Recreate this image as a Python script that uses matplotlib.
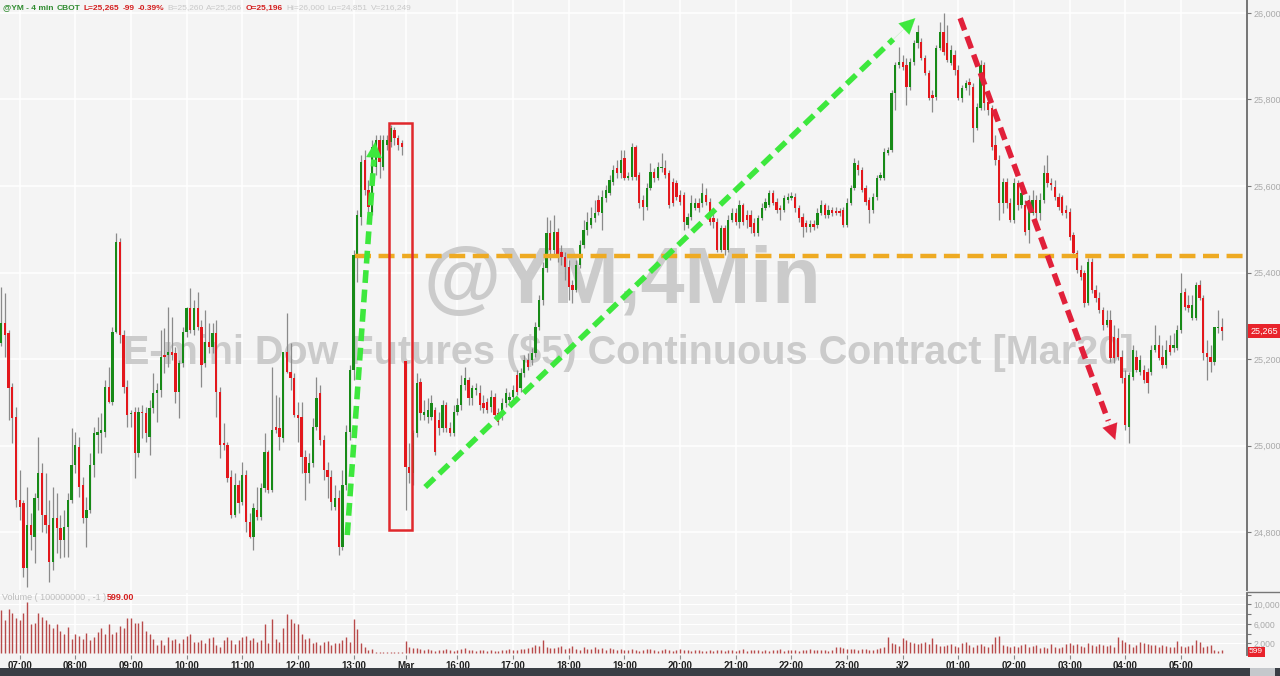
import matplotlib
matplotlib.use('Agg')
import matplotlib.pyplot as plt
from matplotlib.patches import Rectangle
from matplotlib.lines import Line2D
import numpy as np

plt.rcParams['font.family'] = ['Liberation Sans', 'DejaVu Sans']

# ---------------- data (4-minute bars: Friday session then Monday session) ----------------
opens = [
 25237, 25283, 25260, 25135, 25066, 24874, 24867, 24717, 24816, 24788,
 24879, 24936, 24839, 24816, 24731, 24832, 24809, 24781, 24812, 24874,
 24955, 24997, 24909, 24832, 24851, 24955, 25024, 25029, 25031, 25135,
 25101, 25262, 25470, 25255, 25135, 25073, 25077, 24983, 25077, 25075,
 25020, 25087, 25121, 25128, 25209, 25209, 25216, 25214, 25124, 25191,
 25262, 25318, 25267, 25318, 25274, 25191, 25239, 25228, 25260, 25124,
 25006, 25001, 24927, 24839, 24909, 24869, 24932, 24823, 24788, 24851,
 24835, 24902, 24985, 24897, 25043, 25040, 25017, 25216, 25170, 25156,
 25070, 25066, 24973, 24936, 24960, 25043, 25121, 25013, 24943, 24927,
 24858, 24879, 24765, 24909, 25031, 25175, 25440, 25528, 25660, 25591,
 25537, 25644, 25706, 25644, 25695, 25702, 25729, 25711, 25699,
 25196, 24950, 24936, 25029, 25147, 25070, 25066, 25066, 25082, 25059,
 25040, 25094, 25040, 25029, 25077, 25094, 25140, 25151, 25110, 25128,
 25121, 25098, 25101, 25089, 25112, 25075, 25070, 25098, 25105, 25112,
 25163, 25133, 25168, 25198, 25198, 25214, 25274, 25336, 25410, 25491,
 25452, 25494, 25447, 25436, 25413, 25371, 25360, 25417, 25464, 25498,
 25510, 25526, 25568, 25537, 25572, 25584, 25609, 25642, 25630, 25665,
 25618, 25621, 25690, 25625, 25568, 25551, 25595, 25632, 25618, 25642,
 25642, 25630, 25609, 25607, 25579, 25579, 25510, 25528, 25549, 25561,
 25561, 25579, 25563, 25526, 25517, 25452, 25503, 25452, 25521, 25537,
 25517, 25556, 25533, 25533, 25514, 25491, 25526, 25549, 25556, 25584,
 25563, 25549, 25544, 25568, 25572, 25575, 25549, 25528, 25514, 25505,
 25512, 25510, 25537, 25556, 25533, 25544, 25542, 25542, 25544, 25510,
 25561, 25595, 25649, 25637, 25595, 25568, 25544, 25575, 25618, 25618,
 25676, 25683, 25815, 25880, 25887, 25880, 25829, 25887, 25931, 25933,
 25896, 25861, 25810, 25806, 25919, 25956, 25931, 25884, 25903, 25868,
 25803, 25827, 25840, 25829, 25734, 25780, 25880, 25794, 25780, 25695,
 25660, 25561, 25609, 25561, 25521, 25607, 25556, 25556, 25498, 25537,
 25568, 25537, 25568, 25630, 25607, 25598, 25575, 25575, 25544, 25540,
 25487, 25445, 25406, 25399, 25330, 25424, 25360, 25341, 25313, 25279,
 25290, 25251, 25249, 25205, 25156, 25043, 25158, 25205, 25170, 25175,
 25170, 25170, 25221, 25232, 25205, 25186, 25232, 25225, 25225, 25267,
 25355, 25325, 25295, 25295, 25371, 25341, 25214, 25205, 25193, 25272,
 25274]

highs = [
 25366, 25353, 25267, 25144, 25089, 24943, 24874, 24904, 24844, 24890,
 25020, 24960, 24936, 24874, 24904, 24890, 24839, 24851, 24890, 25040,
 25031, 25020, 24927, 24881, 24983, 25043, 25066, 25075, 25151, 25181,
 25274, 25491, 25480, 25267, 25151, 25082, 25089, 25089, 25094, 25089,
 25105, 25168, 25144, 25267, 25272, 25320, 25297, 25228, 25198, 25274,
 25320, 25364, 25336, 25355, 25290, 25313, 25283, 25283, 25290, 25135,
 25052, 25008, 24943, 24936, 24920, 24962, 24943, 24844, 24867, 24904,
 24913, 25029, 24990, 25181, 25117, 25112, 25216, 25306, 25237, 25168,
 25101, 25101, 24990, 24983, 25064, 25158, 25140, 25024, 24962, 24943,
 24909, 24897, 24943, 25047, 25186, 25452, 25544, 25672, 25683, 25614,
 25706, 25718, 25718, 25718, 25718, 25741, 25736, 25718, 25706,
 25196, 25006, 25036, 25168, 25156, 25105, 25110, 25117, 25089, 25077,
 25105, 25101, 25054, 25094, 25110, 25163, 25181, 25158, 25140, 25144,
 25140, 25117, 25110, 25128, 25121, 25087, 25110, 25133, 25124, 25140,
 25175, 25179, 25209, 25214, 25225, 25286, 25348, 25424, 25528, 25521,
 25533, 25503, 25464, 25447, 25429, 25383, 25429, 25475, 25521, 25540,
 25551, 25568, 25579, 25591, 25602, 25625, 25649, 25660, 25683, 25683,
 25632, 25699, 25695, 25632, 25579, 25607, 25653, 25642, 25655, 25676,
 25660, 25637, 25618, 25614, 25591, 25586, 25537, 25579, 25572, 25572,
 25607, 25595, 25572, 25540, 25526, 25510, 25510, 25533, 25549, 25549,
 25568, 25561, 25544, 25544, 25526, 25533, 25561, 25572, 25591, 25591,
 25572, 25556, 25579, 25584, 25586, 25584, 25556, 25537, 25521, 25521,
 25521, 25549, 25568, 25561, 25556, 25551, 25551, 25549, 25551, 25572,
 25602, 25665, 25660, 25644, 25602, 25575, 25584, 25625, 25632, 25688,
 25690, 25822, 25887, 25921, 25903, 25896, 25896, 25938, 25972, 25942,
 25903, 25868, 25822, 25926, 25979, 26000, 25972, 25926, 25914, 25880,
 25833, 25845, 25850, 25838, 25792, 25891, 25887, 25803, 25787, 25718,
 25672, 25618, 25618, 25572, 25618, 25614, 25602, 25568, 25579, 25591,
 25579, 25584, 25649, 25672, 25618, 25614, 25584, 25579, 25556, 25549,
 25494, 25452, 25417, 25406, 25434, 25434, 25371, 25355, 25320, 25313,
 25313, 25279, 25272, 25221, 25175, 25170, 25232, 25221, 25209, 25186,
 25179, 25232, 25279, 25255, 25232, 25244, 25255, 25260, 25279, 25399,
 25364, 25348, 25348, 25378, 25383, 25348, 25244, 25232, 25274, 25313,
 25295]

lows = [
 25230, 25205, 25059, 25006, 24858, 24828, 24696, 24673, 24758, 24728,
 24851, 24800, 24798, 24684, 24712, 24751, 24740, 24742, 24742, 24867,
 24936, 24881, 24821, 24765, 24844, 24927, 24983, 24983, 25020, 25098,
 25094, 25260, 25237, 25121, 25043, 25043, 24925, 24973, 25017, 25008,
 24978, 25075, 25054, 25112, 25168, 25181, 25198, 25098, 25064, 25181,
 25251, 25260, 25255, 25267, 25135, 25181, 25214, 25214, 25066, 24971,
 24990, 24916, 24832, 24835, 24844, 24862, 24800, 24786, 24758, 24828,
 24828, 24892, 24890, 24892, 25029, 24990, 25008, 25168, 25128, 25066,
 25008, 24936, 24874, 24913, 24950, 25036, 25001, 24920, 24879, 24851,
 24851, 24747, 24758, 24897, 25013, 25151, 25378, 25510, 25579, 25540,
 25533, 25625, 25618, 25637, 25683, 25690, 25695, 25683, 25672,
 24851, 24913, 24909, 25020, 25059, 25059, 25052, 25059, 24978, 25024,
 25031, 25031, 25022, 25022, 25070, 25082, 25128, 25094, 25094, 25117,
 25082, 25075, 25075, 25077, 25064, 25047, 25059, 25089, 25098, 25105,
 25117, 25124, 25158, 25175, 25186, 25205, 25267, 25325, 25401, 25429,
 25440, 25424, 25417, 25383, 25336, 25330, 25355, 25410, 25457, 25487,
 25503, 25517, 25533, 25498, 25563, 25579, 25602, 25618, 25618, 25614,
 25614, 25614, 25614, 25549, 25521, 25544, 25591, 25609, 25614, 25632,
 25618, 25549, 25554, 25568, 25556, 25498, 25503, 25521, 25544, 25540,
 25551, 25556, 25510, 25503, 25447, 25447, 25440, 25447, 25517, 25510,
 25503, 25510, 25503, 25491, 25484, 25484, 25521, 25544, 25551, 25556,
 25537, 25521, 25540, 25561, 25568, 25540, 25517, 25482, 25494, 25494,
 25498, 25503, 25533, 25526, 25526, 25531, 25533, 25531, 25505, 25505,
 25556, 25591, 25625, 25586, 25556, 25514, 25537, 25568, 25614, 25614,
 25672, 25679, 25776, 25873, 25868, 25787, 25822, 25880, 25919, 25891,
 25857, 25799, 25771, 25799, 25914, 25903, 25887, 25880, 25857, 25799,
 25794, 25822, 25810, 25702, 25729, 25776, 25776, 25764, 25683, 25649,
 25521, 25537, 25549, 25517, 25514, 25544, 25549, 25487, 25468, 25533,
 25526, 25521, 25561, 25598, 25591, 25568, 25544, 25533, 25526, 25475,
 25436, 25399, 25383, 25320, 25325, 25353, 25332, 25306, 25267, 25274,
 25193, 25191, 25198, 25144, 25036, 25006, 25151, 25170, 25163, 25144,
 25121, 25163, 25216, 25198, 25179, 25179, 25209, 25216, 25221, 25260,
 25313, 25309, 25290, 25290, 25336, 25198, 25151, 25170, 25186, 25260,
 25244]

closes = [
 25283, 25255, 25133, 25064, 24874, 24858, 24717, 24816, 24793, 24879,
 24936, 24839, 24816, 24731, 24832, 24809, 24781, 24812, 24874, 24955,
 25001, 24904, 24832, 24851, 24955, 25029, 25031, 25036, 25135, 25101,
 25262, 25470, 25255, 25135, 25070, 25075, 24983, 25077, 25075, 25029,
 25087, 25121, 25128, 25205, 25205, 25216, 25209, 25124, 25191, 25262,
 25318, 25267, 25318, 25274, 25186, 25239, 25228, 25260, 25124, 25001,
 25001, 24925, 24839, 24909, 24867, 24932, 24823, 24788, 24855, 24835,
 24902, 24985, 24897, 25036, 25036, 25020, 25216, 25170, 25156, 25070,
 25064, 24973, 24936, 24960, 25043, 25110, 25013, 24943, 24927, 24869,
 24879, 24765, 24909, 25031, 25175, 25440, 25533, 25655, 25591, 25551,
 25690, 25706, 25655, 25706, 25706, 25734, 25711, 25695, 25690,
 24950, 24936, 25029, 25144, 25075, 25077, 25082, 25098, 24985, 25040,
 25094, 25040, 25029, 25077, 25094, 25140, 25156, 25110, 25133, 25133,
 25094, 25087, 25082, 25112, 25070, 25054, 25098, 25121, 25112, 25128,
 25124, 25168, 25198, 25181, 25214, 25274, 25336, 25410, 25491, 25452,
 25494, 25436, 25436, 25413, 25366, 25360, 25417, 25464, 25498, 25517,
 25526, 25537, 25540, 25575, 25591, 25614, 25637, 25630, 25660, 25618,
 25623, 25690, 25621, 25561, 25551, 25595, 25632, 25618, 25644, 25644,
 25625, 25556, 25561, 25575, 25563, 25517, 25528, 25561, 25561, 25549,
 25584, 25563, 25517, 25517, 25452, 25503, 25452, 25521, 25537, 25517,
 25556, 25517, 25521, 25505, 25491, 25526, 25549, 25563, 25584, 25561,
 25544, 25544, 25572, 25575, 25577, 25549, 25526, 25505, 25505, 25512,
 25505, 25537, 25556, 25533, 25544, 25537, 25537, 25537, 25510, 25561,
 25595, 25653, 25637, 25591, 25563, 25544, 25575, 25618, 25625, 25679,
 25683, 25815, 25880, 25887, 25875, 25829, 25887, 25931, 25956, 25896,
 25861, 25803, 25803, 25919, 25956, 25910, 25891, 25914, 25868, 25803,
 25827, 25838, 25833, 25734, 25783, 25880, 25792, 25776, 25690, 25660,
 25561, 25609, 25561, 25521, 25607, 25556, 25584, 25494, 25568, 25568,
 25537, 25568, 25630, 25607, 25602, 25575, 25551, 25537, 25537, 25482,
 25445, 25406, 25390, 25330, 25424, 25360, 25341, 25313, 25279, 25290,
 25202, 25202, 25205, 25156, 25047, 25163, 25221, 25175, 25198, 25151,
 25144, 25221, 25232, 25202, 25186, 25221, 25216, 25232, 25267, 25353,
 25320, 25318, 25325, 25371, 25341, 25214, 25205, 25193, 25274, 25274,
 25265]

volumes = [
 8900, 6900, 9000, 8200, 7200, 6900, 8200, 10500, 5900, 6200,
 8200, 7500, 6900, 5900, 5200, 5900, 4600, 3900, 5400, 2900,
 3900, 3600, 2900, 4100, 2600, 3300, 4300, 5200, 3900, 5900,
 3900, 4300, 5600, 5200, 7200, 7200, 6200, 6200, 6600, 4600,
 3900, 2900, 1600, 2600, 1600, 3300, 2600, 2900, 2000, 2900,
 3600, 3900, 2300, 2300, 2600, 2000, 3000, 3300, 1600, 1300,
 2600, 3300, 2600, 1900, 2600, 3300, 3600, 2600, 3000, 2300,
 2600, 6000, 2000, 7000, 2900, 2300, 5200, 8000, 7000, 6200,
 5900, 3900, 2900, 3000, 2000, 2300, 1600, 2300, 2400, 1600,
 2000, 2000, 2600, 3300, 2300, 7000, 5000, 2000, 1300, 700,
 900, 300, 250, 200, 200, 300, 250, 200, 300,
 2400,
 1300, 1100, 1000, 800, 700, 800, 600, 500, 600, 700, 900, 600, 500, 700, 800, 1000,
 700, 600, 500, 600, 700, 500, 600, 500, 400, 600, 700, 800, 700, 600, 900, 800, 1100, 1300, 1700, 1500,
 2600, 1300, 1100, 1000, 1200, 1500, 900, 1000, 1500, 800, 700, 1300, 900, 800, 1200,
 800, 1000, 700, 1100, 900, 700, 800, 600, 700, 900, 600, 500, 700, 900, 800, 600, 500, 700, 800, 600,
 500, 600, 800, 700, 600, 500, 700, 600, 500, 400, 600, 500, 700, 600, 500, 600, 700, 500, 600, 800,
 500, 600, 700, 600, 500, 600, 500, 700, 600, 800, 500, 600, 700, 600, 500, 600, 700, 800, 600, 700,
 600, 700, 500, 600, 1300, 1200, 1100, 900, 800, 900, 700, 800, 900, 700, 600, 800, 1000, 1200,
 3300, 2100, 1900, 1500, 3000, 2600, 2300, 2100, 1900, 2000, 2300, 1900, 3000, 1800, 1500, 1400, 1700, 1800, 1500, 1300, 2000, 2300,
 1600, 1300, 1700, 1900, 1400, 1200, 1800, 3300, 3500, 1700, 1400, 1300, 1500, 1200, 1600, 1800, 1300, 1400, 1600, 1000,
 1300, 1100, 1800, 1300, 1000, 1200, 1900, 2100, 1600, 1800, 1500, 1300, 2000, 1700, 1400, 1900, 1600, 1400, 1700, 1300,
 3300, 2700, 2200, 1800, 1300, 1700, 2200, 2000, 1900, 1700, 1600, 1300, 1700, 1400, 1300, 1200, 2500, 1500, 1300, 1400,
 1600, 2700, 2200, 1300, 1500, 1600, 700, 500, 599]

tick_pos = [5, 20, 35, 50, 65, 80, 95, 109, 123, 138, 153, 168, 183, 198,
            213, 228, 243, 258, 273, 288, 303, 318]
tick_labels = ['07:00', '08:00', '09:00', '10:00', '11:00', '12:00', '13:00', 'Mar',
               '16:00', '17:00', '18:00', '19:00', '20:00', '21:00', '22:00', '23:00',
               '3/2', '01:00', '02:00', '03:00', '04:00', '05:00']
price_ticks = [24800, 25000, 25200, 25400, 25600, 25800, 26000]
vol_ticks = [2000, 4000, 6000, 8000, 10000, 12000]
vol_labels = ['2,000', '', '6,000', '', '10,000', '']
last_price = 25265
last_volume = 599
level_price = 25438          # orange dashed level
box_x = (104.6, 110.8)       # red box (bar index range)
box_y = (24805, 25746)
green_arrows = [((93.3, 24793), (100.8, 25702)), ((114.3, 24904), (246.4, 25988))]
red_arrow = ((258.5, 25988), (300.3, 25013))
header = [(2, '@YM - 4 min', '#2e8b2e', 'bold'), (57, 'CBOT', '#2e8b2e', 'bold'),
          (81, 'L=25,265', '#d42020', 'bold'), (120, '-99', '#d42020', 'bold'),
          (134, '-0.39%', '#d42020', 'bold'), (167, 'B=25,260', '#c8c8c8', 'normal'),
          (204, 'A=25,266', '#c8c8c8', 'normal'), (246, 'O=25,196', '#d42020', 'bold'),
          (286, 'Hi=26,000', '#c8c8c8', 'normal'), (326, 'Lo=24,851', '#c8c8c8', 'normal'),
          (368, 'V=216,249', '#c8c8c8', 'normal')]

# ---------------- figure ----------------
W, H = 1280, 676
BG = '#f4f4f4'
GREEN = '#178a17'
RED = '#e3171c'
fig = plt.figure(figsize=(W / 100, H / 100), dpi=100)
fig.patch.set_facecolor(BG)

ax = fig.add_axes([0, 1 - 590 / H, 1247 / W, 590 / H])
vax = fig.add_axes([0, 1 - 655 / H, 1247 / W, 62 / H])
for a in (ax, vax):
    a.set_facecolor(BG)
    for s in ('left', 'top', 'bottom'):
        a.spines[s].set_visible(False)
    a.spines['right'].set_color('#6a6a6a')
    a.spines['right'].set_linewidth(1.3)
    a.set_xlim(-0.3, 335.8)
    a.set_axisbelow(True)

n = len(closes)
x = np.arange(n)
o = np.array(opens, float)
c = np.array(closes, float)
hi = np.array(highs, float)
lo = np.array(lows, float)
up = c >= o
cols = [GREEN if u else RED for u in up]
bottom = np.minimum(o, c)
height = np.maximum(np.abs(c - o), 3.0)

# watermark
ax.text(167.5, 25377, '@YM,4Min', ha='center', va='center', fontsize=57, fontweight='bold',
        color='#cbcbcb', zorder=1)
ax.text(169, 25215, 'E-mini Dow Futures ($5) Continuous Contract [Mar20]', ha='center',
        va='center', fontsize=28.5, fontweight='bold', color='#cbcbcb', zorder=1)

ax.vlines(x, lo, hi, color='#8a8a8a', lw=0.9, zorder=2)
ax.bar(x, height, bottom=bottom, width=0.62, color=cols, lw=0, zorder=3)

ax.set_ylim(24666, 26030)
ax.yaxis.tick_right()
ax.set_yticks(price_ticks)
ax.set_yticklabels([f'{v:,}' for v in price_ticks])
ax.tick_params(axis='y', direction='out', length=3, width=0.8, color='#777777',
               labelsize=6.5, labelcolor='#a9a9a9', pad=1.5)
ax.set_xticks(tick_pos)
ax.tick_params(axis='x', length=0, labelbottom=False)
ax.grid(True, color='white', lw=1.1, zorder=0)

# orange level
ax.plot([95.5, 336], [level_price, level_price], color='#eeaa22', lw=3.2,
        ls=(0, (3.6, 1.7)), zorder=4, solid_capstyle='butt')

# red box
ax.add_patch(Rectangle((box_x[0], box_y[0]), box_x[1] - box_x[0], box_y[1] - box_y[0],
                       fill=False, edgecolor='#e0282c', lw=1.8, zorder=5))


def dashed_arrow(p0, p1, color):
    (x0, y0), (x1, y1) = p0, p1
    t = 0.955
    xm, ym = x0 + (x1 - x0) * t, y0 + (y1 - y0) * t
    ax.plot([x0, xm], [y0, ym], color=color, lw=4.0, ls=(0, (2.3, 1.2)), zorder=6,
            dash_capstyle='butt')
    ax.annotate('', xy=(x1, y1), xytext=(xm, ym),
                arrowprops=dict(arrowstyle='-|>,head_length=0.7,head_width=0.35',
                                color=color, lw=0.1, shrinkA=0, shrinkB=0,
                                mutation_scale=16), zorder=6)


for p0, p1 in green_arrows:
    dashed_arrow(p0, p1, '#3de83d')
dashed_arrow(red_arrow[0], red_arrow[1], '#e1203a')

# last price tag
ax.text(1.003, last_price, f'{last_price:,}', transform=ax.get_yaxis_transform(),
        ha='left', va='center', fontsize=6.5, color='white', zorder=10, clip_on=False,
        bbox=dict(boxstyle='square,pad=0.25', fc='#e8232b', ec='none'))

# volume panel
vax.vlines(x, 0, volumes, color='#b84a4a', lw=1.0, zorder=3)
vax.set_ylim(-410, 12370)
vax.yaxis.tick_right()
vax.set_yticks(vol_ticks)
vax.set_yticklabels(vol_labels)
vax.tick_params(axis='y', direction='out', length=3, width=0.8, color='#777777',
                labelsize=6.2, labelcolor='#a9a9a9', pad=1.5)
vax.set_xticks(tick_pos)
vax.set_xticklabels(tick_labels)
vax.tick_params(axis='x', direction='out', length=3, width=0.8, color='#888888',
                labelsize=7, pad=1.5)
for lab in vax.get_xticklabels():
    lab.set_fontweight('bold')
    lab.set_color('#202020')
vax.grid(True, axis='x', color='white', lw=1.1, zorder=0)
vax.grid(True, axis='y', color='white', lw=0.8, zorder=0)
# volume tag sits just under the 2,000 label
fig.text(1249 / W, 1 - 651.5 / H, f'{last_volume}', ha='left', va='center', fontsize=6,
         color='white', zorder=10,
         bbox=dict(boxstyle='square,pad=0.18', fc='#e8232b', ec='none'))

fig.text(2 / W, 1 - 597 / H, 'Volume ( 100000000 , -1 )', fontsize=6.5, color='#bdbdbd',
         va='center', ha='left')
fig.text(107 / W, 1 - 597 / H, '599.00', fontsize=6.5, color='#d42020', fontweight='bold',
         va='center', ha='left')

# separator on the right axis strip
fig.add_artist(Line2D([1247 / W, 1], [1 - 592 / H, 1 - 592 / H], color='#777777', lw=1.0,
                      transform=fig.transFigure))

# header: place segments left to right without overlap
renderer = fig.canvas.get_renderer()
hy = 1 - 8 / H
cur = 0
for px, s, col, fw in header:
    xpos = max(px, cur + 3)
    t = fig.text(xpos / W, hy, s, fontsize=6.0, color=col, fontweight=fw, va='center',
                 ha='left')
    cur = t.get_window_extent(renderer).x1

# bottom strip
fig.add_artist(Rectangle((0, 0), 1, 8 / H, transform=fig.transFigure, color='#3a3e45', lw=0))
fig.add_artist(Rectangle((1250 / W, 0), 25 / W, 8 / H, transform=fig.transFigure,
                         color='#c5c8cc', lw=0))

fig.savefig('out.png', dpi=100, facecolor=BG)
